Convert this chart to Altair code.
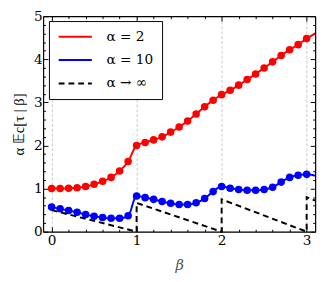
import altair as alt
import pandas as pd

# ---- data ----
beta = [0.0, 0.1, 0.2, 0.3, 0.4, 0.5, 0.6, 0.7, 0.8, 0.9,
        1.0, 1.1, 1.2, 1.3, 1.4, 1.5, 1.6, 1.7, 1.8, 1.9,
        2.0, 2.1, 2.2, 2.3, 2.4, 2.5, 2.6, 2.7, 2.8, 2.9,
        3.0, 3.1]
red_vals = [1.00, 1.00, 1.01, 1.02, 1.05, 1.10, 1.17, 1.26, 1.41, 1.63,
            2.00, 2.07, 2.13, 2.20, 2.31, 2.43, 2.57, 2.73, 2.90, 3.05,
            3.18, 3.28, 3.40, 3.53, 3.66, 3.80, 3.94, 4.09, 4.22, 4.34,
            4.48, 4.60]
blue_vals = [0.57, 0.53, 0.49, 0.45, 0.40, 0.36, 0.33, 0.31, 0.31, 0.37,
             0.83, 0.79, 0.75, 0.70, 0.66, 0.63, 0.63, 0.67, 0.77, 0.93,
             1.05, 1.01, 0.98, 0.96, 0.96, 0.98, 1.03, 1.15, 1.26, 1.31,
             1.33, 1.30]
n_markers = 31  # markers drawn up to beta = 3.0
dash_x = [0.0, 1.0, 1.0, 2.0, 2.0, 3.0, 3.0, 3.1]
dash_y = [0.50, 0.0, 0.667, 0.0, 0.75, 0.0, 0.80, 0.72]

labels = ["α = 2", "α = 10", "α → ∞"]
colors = ["#ff0000", "#0000ff", "#000000"]
dashes = [[1, 0], [1, 0], [6, 4]]

x_major = [0, 1, 2, 3]
x_minor = [round(0.2 * i, 1) for i in range(1, 16) if i % 5 != 0]
y_major = [0, 1, 2, 3, 4, 5]
y_minor = [round(0.2 * i, 1) for i in range(1, 25) if i % 5 != 0]

FONT = "DejaVu Serif"
TITLE_FONT = "Liberation Serif"

rows = []
for i, (b, r) in enumerate(zip(beta, red_vals)):
    rows.append({"series": labels[0], "beta": b, "val": r, "idx": i})
for i, (b, v) in enumerate(zip(beta, blue_vals)):
    rows.append({"series": labels[1], "beta": b, "val": v, "idx": i})
curves = pd.DataFrame(rows)
dashed = pd.DataFrame({"series": labels[2], "beta": dash_x, "val": dash_y,
                       "idx": list(range(len(dash_x)))})
pts_red = pd.DataFrame({"beta": beta[:n_markers], "val": red_vals[:n_markers]})
pts_blue = pd.DataFrame({"beta": beta[:n_markers], "val": blue_vals[:n_markers]})

xs = alt.Scale(domain=[-0.1, 3.1], nice=False, zero=False)
ys = alt.Scale(domain=[0, 5], nice=False, zero=False)

leg = alt.Legend(orient="none", legendX=6, legendY=5, title=None,
                 symbolType="M-3.4,0H3.4", symbolSize=100, symbolStrokeWidth=2,
                 symbolOffset=11,
                 labelFont=FONT, labelFontSize=14, labelColor="black",
                 labelOffset=25, strokeColor="black", fillColor="white",
                 padding=9, cornerRadius=0, rowPadding=10)
color_enc = alt.Color("series:N", scale=alt.Scale(domain=labels, range=colors), legend=leg)
dash_enc = alt.StrokeDash("series:N", scale=alt.Scale(domain=labels, range=dashes), legend=leg)

MAJ = {"expr": "-5"}
MIN = {"expr": "-2.5"}


def xaxis(orient, values, major, show_labels=False, grid=False, title=None):
    kw = dict(orient=orient, values=values, labels=show_labels, grid=grid,
              ticks=True, tickSize=MAJ if major else MIN, tickColor="black",
              tickWidth=1, domain=major, domainColor="black", domainWidth=1.2)
    if show_labels:
        kw.update(labelFont=FONT, labelFontSize=14, labelColor="black",
                  labelPadding=7, labelAngle=0)
    if grid:
        kw.update(gridColor="#bbbbbb", gridDash=[3, 2], gridWidth=0.8)
    if title:
        kw.update(title=title, titleFont=FONT, titleFontSize=15,
                  titleFontStyle="italic", titleFontWeight="normal",
                  titleColor="#555555", titlePadding=11)
    else:
        kw.update(title=None)
    return alt.Axis(**kw)


def yaxis(orient, values, major, show_labels=False, title=None):
    kw = dict(orient=orient, values=values, labels=show_labels, grid=False,
              ticks=True, tickSize=MAJ if major else MIN, tickColor="black",
              tickWidth=1, domain=major, domainColor="black", domainWidth=1.2)
    if show_labels:
        kw.update(labelFont=FONT, labelFontSize=14, labelColor="black",
                  labelPadding=6)
    if title:
        kw.update(title=title, titleFont=TITLE_FONT, titleFontSize=15,
                  titleFontWeight="normal", titleColor="black",
                  titlePadding=7)
    else:
        kw.update(title=None)
    return alt.Axis(**kw)


curve_layer = alt.Chart(curves).mark_line(strokeWidth=2, interpolate="monotone").encode(
    x=alt.X("beta:Q", scale=xs,
            axis=xaxis("bottom", x_major, True, show_labels=True, grid=True, title="β")),
    y=alt.Y("val:Q", scale=ys,
            axis=yaxis("left", y_major, True, show_labels=True, title="α 𝔼c[τ | β]")),
    color=color_enc, strokeDash=dash_enc, order="idx:Q",
)

red_pts = alt.Chart(pts_red).mark_circle(size=60, opacity=1).encode(
    x=alt.X("beta:Q", scale=xs, axis=xaxis("top", x_major, True)),
    y=alt.Y("val:Q", scale=ys, axis=yaxis("right", y_major, True)),
    color=alt.value("#ff0000"),
)

blue_pts = alt.Chart(pts_blue).mark_circle(size=60, opacity=1).encode(
    x=alt.X("beta:Q", scale=xs, axis=xaxis("top", x_minor, False)),
    y=alt.Y("val:Q", scale=ys, axis=yaxis("right", y_minor, False)),
    color=alt.value("#0000ff"),
)

dash_layer = alt.Chart(dashed).mark_line(strokeWidth=2).encode(
    x=alt.X("beta:Q", scale=xs, axis=xaxis("bottom", x_minor, False)),
    y=alt.Y("val:Q", scale=ys, axis=yaxis("left", y_minor, False)),
    color=color_enc, strokeDash=dash_enc, order="idx:Q",
)

chart = alt.layer(curve_layer, red_pts, blue_pts, dash_layer).resolve_axis(
    x="independent", y="independent"
).properties(
    width=279, height=221,
    autosize=alt.AutoSizeParams(type="none"),
    padding={"left": 36, "top": 5, "right": 6, "bottom": 40},
).configure_view(stroke=None).configure(background="white")

chart.save("out.html", embed_options={"renderer": "svg", "actions": False})
